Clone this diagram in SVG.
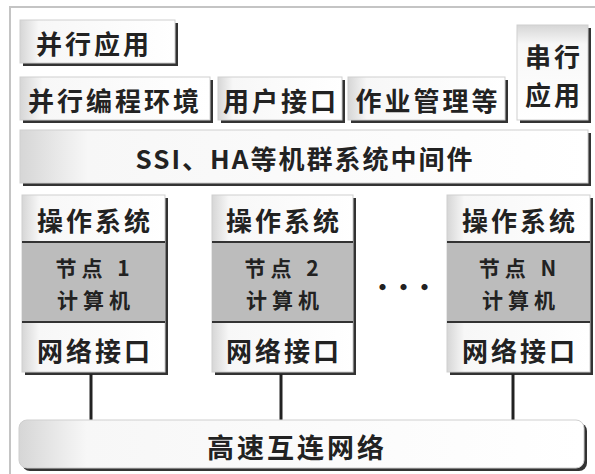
<svg xmlns="http://www.w3.org/2000/svg" width="595" height="474" viewBox="0 0 595 474">
<style>
.t{font-family:"Noto Sans CJK SC","Noto Sans",sans-serif;font-weight:bold;fill:#222;text-anchor:middle;dominant-baseline:central}
.f{font-size:26px;letter-spacing:3px}
.n{font-size:21px;letter-spacing:5px}
.box{fill:url(#g);stroke:#cfcfcf;stroke-width:1}
.sh{fill:#333}
.div{stroke:#333;stroke-width:2}
.conn{stroke:#222;stroke-width:3;fill:none}
</style>
<defs>
<linearGradient id="g" x1="0" y1="0" x2="1" y2="0">
<stop offset="0" stop-color="#d6d6d6"/>
<stop offset="0.12" stop-color="#f7f7f7"/>
<stop offset="1" stop-color="#ffffff"/>
</linearGradient>
<linearGradient id="gv" x1="0" y1="0" x2="0" y2="1">
<stop offset="0" stop-color="#d6d6d6"/>
<stop offset="0.2" stop-color="#f7f7f7"/>
<stop offset="1" stop-color="#ffffff"/>
</linearGradient>
</defs>
<rect x="0" y="0" width="595" height="474" fill="#ffffff"/>
<rect x="10" y="7" width="590" height="475" fill="none" stroke="#c4c4c4" stroke-width="2"/>

<g id="app-parallel">
<rect class="sh" x="23" y="23" width="155" height="43"/>
<rect class="box" x="20" y="20" width="155" height="43"/>
<text class="t f" x="94" y="42">并行应用</text>
</g>
<g id="env-parallel">
<rect class="sh" x="23" y="80" width="190" height="43"/>
<rect class="box" x="20" y="77" width="190" height="43"/>
<text class="t f" x="115" y="99">并行编程环境</text>
</g>
<g id="user-iface">
<rect class="sh" x="221" y="80" width="124" height="43"/>
<rect class="box" x="218" y="77" width="124" height="43"/>
<text class="t f" x="281" y="99">用户接口</text>
</g>
<g id="job-mgmt">
<rect class="sh" x="351" y="80" width="157" height="43"/>
<rect class="box" x="348" y="77" width="157" height="43"/>
<text class="t f" x="428" y="99">作业管理等</text>
</g>
<g id="app-serial">
<rect class="sh" x="520" y="28" width="71" height="95"/>
<rect x="517" y="25" width="71" height="95" fill="url(#gv)" stroke="#cfcfcf"/>
<text class="t f" x="554" y="55">串行</text>
<text class="t f" x="554" y="93">应用</text>
</g>
<g id="middleware">
<rect class="sh" x="23" y="133" width="568" height="53"/>
<rect class="box" x="20" y="130" width="568" height="53"/>
<text class="t" x="305" y="157" font-size="26" letter-spacing="2">SSI、HA等机群系统中间件</text>
</g>

<g id="node1">
<rect class="sh" x="25" y="198" width="143" height="177"/>
<rect class="box" x="22" y="195" width="143" height="177"/>
<rect x="22" y="242" width="143" height="80" fill="#bcbcbc"/>
<line class="div" x1="22" y1="242" x2="165" y2="242"/>
<line class="div" x1="22" y1="322" x2="165" y2="322"/>
<text class="t f" x="95" y="219">操作系统</text>
<text class="t n" x="95" y="267">节点 1</text>
<text class="t n" x="96" y="299">计算机</text>
<text class="t f" x="95" y="349">网络接口</text>
</g>
<g id="node2">
<rect class="sh" x="215" y="198" width="141" height="177"/>
<rect class="box" x="212" y="195" width="141" height="177"/>
<rect x="212" y="242" width="141" height="80" fill="#bcbcbc"/>
<line class="div" x1="212" y1="242" x2="353" y2="242"/>
<line class="div" x1="212" y1="322" x2="353" y2="322"/>
<text class="t f" x="284" y="219">操作系统</text>
<text class="t n" x="284" y="267">节点 2</text>
<text class="t n" x="285" y="299">计算机</text>
<text class="t f" x="284" y="349">网络接口</text>
</g>
<g id="ellipsis">
<text class="t" x="402" y="285" font-size="24" letter-spacing="-3">•••</text>
</g>
<g id="nodeN">
<rect class="sh" x="450" y="198" width="143" height="177"/>
<rect class="box" x="447" y="195" width="143" height="177"/>
<rect x="447" y="242" width="143" height="80" fill="#bcbcbc"/>
<line class="div" x1="447" y1="242" x2="590" y2="242"/>
<line class="div" x1="447" y1="322" x2="590" y2="322"/>
<text class="t f" x="520" y="219">操作系统</text>
<text class="t n" x="520" y="267">节点 N</text>
<text class="t n" x="521" y="299">计算机</text>
<text class="t f" x="520" y="349">网络接口</text>
</g>

<g id="connectors">
<line class="conn" x1="91" y1="374" x2="91" y2="421"/>
<line class="conn" x1="281" y1="374" x2="281" y2="421"/>
<line class="conn" x1="513" y1="374" x2="513" y2="421"/>
</g>

<g id="network">
<rect class="sh" x="22" y="423" width="565" height="48" rx="8"/>
<rect x="19" y="420" width="565" height="48" rx="8" fill="url(#g)" stroke="#cfcfcf"/>
<text class="t" x="297" y="446" font-size="27" letter-spacing="3">高速互连网络</text>
</g>
</svg>
